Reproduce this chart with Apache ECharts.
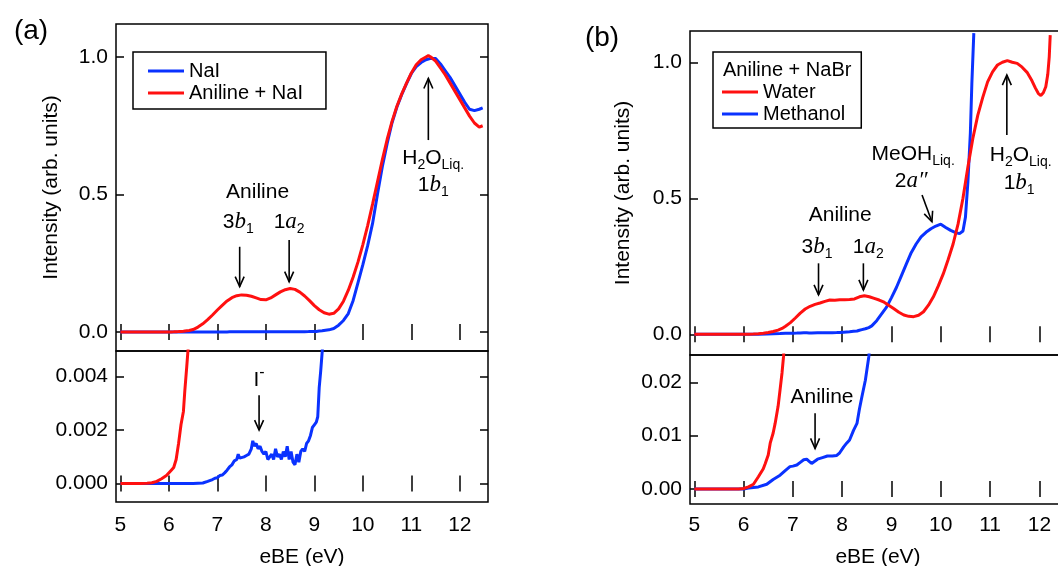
<!DOCTYPE html>
<html><head><meta charset="utf-8">
<script src="https://cdn.jsdelivr.net/npm/echarts@6/dist/echarts.min.js"></script>
<style>html,body{margin:0;padding:0;background:#fff}#c{width:1058px;height:566px}</style>
</head><body><div id="c"></div>
<script>
// ---- tick values ----
const xTicks = [5, 6, 7, 8, 9, 10, 11, 12];
const aTopTicks = [0, 0.5, 1.0];
const aBotTicks = [0, 0.002, 0.004];
const bTopTicks = [0, 0.5, 1.0];
const bBotTicks = [0, 0.01, 0.02];

// ---- panel (a): NaI and Aniline + NaI (eBE eV, intensity) ----
const naI = [[5.0,0],[5.5,0],[6.0,0],[6.5,0],[6.7,0.00002],[6.8,0.00008],[6.9,0.00015],[6.95,0.0002],[7.0,0.00022],[7.05,0.0003],[7.1,0.00032],[7.15,0.0004],[7.2,0.0005],[7.25,0.00062],[7.3,0.0007],[7.35,0.00085],[7.4,0.0009],[7.43,0.0011],[7.46,0.00095],[7.5,0.0009],[7.55,0.001],[7.6,0.00105],[7.65,0.0011],[7.7,0.0013],[7.73,0.0016],[7.76,0.0014],[7.8,0.0015],[7.84,0.0013],[7.88,0.0014],[7.92,0.0012],[7.96,0.0011],[8.0,0.0012],[8.04,0.0009],[8.08,0.001],[8.12,0.0011],[8.16,0.0009],[8.2,0.0013],[8.24,0.001],[8.28,0.0011],[8.32,0.0009],[8.36,0.0012],[8.4,0.001],[8.44,0.0014],[8.48,0.0009],[8.52,0.0012],[8.56,0.0008],[8.6,0.0007],[8.64,0.0011],[8.68,0.0008],[8.72,0.0012],[8.76,0.0013],[8.8,0.0012],[8.84,0.0015],[8.88,0.0016],[8.92,0.0018],[8.96,0.0021],[9.0,0.0022],[9.04,0.0023],[9.07,0.0025],[9.1,0.0036],[9.13,0.0042],[9.16,0.0049],[9.2,0.006],[9.3,0.008],[9.4,0.013],[9.5,0.025],[9.6,0.042],[9.7,0.067],[9.8,0.115],[9.9,0.18],[10.0,0.245],[10.1,0.315],[10.2,0.395],[10.3,0.5],[10.4,0.6],[10.5,0.685],[10.6,0.76],[10.7,0.817],[10.8,0.863],[10.9,0.903],[11.0,0.94],[11.1,0.965],[11.2,0.98],[11.3,0.99],[11.4,0.995],[11.5,0.995],[11.6,0.975],[11.7,0.95],[11.8,0.925],[11.9,0.895],[12.0,0.865],[12.1,0.835],[12.2,0.81],[12.3,0.805],[12.4,0.81],[12.47,0.815]];
const anilineNaI = [[5.0,0],[5.2,0],[5.4,0],[5.55,0.00001],[5.65,0.00003],[5.75,0.00008],[5.85,0.00018],[5.95,0.0003],[6.05,0.0005],[6.1,0.0006],[6.15,0.0009],[6.2,0.0015],[6.25,0.0022],[6.3,0.0027],[6.33,0.0035],[6.37,0.0044],[6.42,0.0056],[6.5,0.009],[6.6,0.018],[6.7,0.03],[6.8,0.045],[6.9,0.062],[7.0,0.08],[7.1,0.097],[7.2,0.113],[7.3,0.125],[7.4,0.132],[7.5,0.135],[7.6,0.134],[7.7,0.13],[7.8,0.124],[7.9,0.118],[8.0,0.117],[8.1,0.124],[8.2,0.135],[8.3,0.146],[8.4,0.154],[8.5,0.158],[8.6,0.155],[8.7,0.145],[8.8,0.131],[8.9,0.114],[9.0,0.096],[9.1,0.081],[9.2,0.07],[9.3,0.065],[9.4,0.068],[9.5,0.084],[9.6,0.112],[9.7,0.152],[9.8,0.2],[9.9,0.255],[10.0,0.318],[10.1,0.388],[10.2,0.465],[10.3,0.545],[10.4,0.625],[10.5,0.7],[10.6,0.765],[10.7,0.82],[10.8,0.865],[10.9,0.905],[11.0,0.942],[11.1,0.972],[11.2,0.99],[11.3,1.0],[11.35,1.005],[11.4,1.0],[11.5,0.985],[11.6,0.96],[11.7,0.935],[11.8,0.905],[11.9,0.875],[12.0,0.845],[12.1,0.815],[12.2,0.785],[12.3,0.76],[12.4,0.745],[12.47,0.75]];

// ---- panel (b): Aniline + NaBr in water / methanol ----
const water = [[5.0,0],[5.5,0],[5.9,0],[6.0,0.0001],[6.1,0.0004],[6.2,0.0009],[6.3,0.0023],[6.4,0.0038],[6.44,0.0048],[6.5,0.0064],[6.54,0.0086],[6.6,0.0105],[6.64,0.0123],[6.7,0.0155],[6.74,0.0186],[6.78,0.0218],[6.81,0.0248],[6.85,0.03],[6.95,0.043],[7.05,0.06],[7.15,0.078],[7.25,0.093],[7.35,0.103],[7.45,0.11],[7.55,0.115],[7.65,0.121],[7.75,0.126],[7.85,0.125],[7.95,0.127],[8.05,0.127],[8.15,0.128],[8.25,0.13],[8.35,0.138],[8.45,0.142],[8.55,0.138],[8.65,0.132],[8.75,0.126],[8.85,0.118],[8.95,0.106],[9.05,0.094],[9.15,0.081],[9.25,0.071],[9.35,0.066],[9.45,0.065],[9.55,0.07],[9.65,0.083],[9.75,0.107],[9.85,0.138],[9.95,0.178],[10.05,0.222],[10.15,0.275],[10.25,0.332],[10.35,0.405],[10.45,0.5],[10.55,0.615],[10.65,0.72],[10.75,0.805],[10.85,0.87],[10.95,0.928],[11.05,0.965],[11.15,0.99],[11.25,1.0],[11.35,1.006],[11.45,1.0],[11.55,0.996],[11.65,0.982],[11.75,0.963],[11.85,0.932],[11.92,0.905],[11.98,0.885],[12.03,0.878],[12.08,0.888],[12.13,0.91],[12.17,0.955],[12.2,1.02],[12.22,1.1]];
const methanol = [[5.0,0],[5.5,0],[6.0,0],[6.1,0.0002],[6.3,0.0004],[6.47,0.0009],[6.6,0.0018],[6.74,0.0026],[6.85,0.0035],[6.94,0.0042],[7.0,0.0043],[7.08,0.0045],[7.15,0.005],[7.22,0.0055],[7.28,0.0056],[7.33,0.0052],[7.38,0.0048],[7.42,0.005],[7.5,0.0056],[7.6,0.0059],[7.7,0.0062],[7.8,0.0062],[7.89,0.0063],[7.95,0.0068],[8.03,0.0079],[8.09,0.0086],[8.15,0.0092],[8.23,0.011],[8.3,0.0123],[8.35,0.015],[8.4,0.0173],[8.47,0.0204],[8.54,0.0248],[8.6,0.031],[8.7,0.05],[8.8,0.075],[8.9,0.1],[9.0,0.135],[9.1,0.172],[9.2,0.215],[9.3,0.258],[9.4,0.3],[9.5,0.332],[9.6,0.358],[9.7,0.375],[9.8,0.388],[9.9,0.398],[10.0,0.405],[10.1,0.393],[10.2,0.382],[10.3,0.374],[10.38,0.37],[10.45,0.38],[10.5,0.43],[10.55,0.56],[10.6,0.74],[10.63,0.92],[10.67,1.107]];

// ---- annotations (data coordinates, per grid) ----
const annoTexts = [
  {g:0, at:[7.83,0.51], t:'{n|Aniline}'},
  {g:0, at:[7.43,0.40], t:'{n|3}{i|b}{s|1}'},
  {g:0, at:[8.48,0.40], t:'{n|1}{i|a}{s|2}'},
  {g:0, at:[11.45,0.633], t:'{n|H}{s|2}{n|O}{s|Liq.}'},
  {g:0, at:[11.45,0.535], t:'{n|1}{i|b}{s|1}'},
  {g:1, at:[7.86,0.00388], t:'{n|I}{p|-}'},
  {g:2, at:[7.96,0.439], t:'{n|Aniline}'},
  {g:2, at:[7.49,0.322], t:'{n|3}{i|b}{s|1}'},
  {g:2, at:[8.53,0.322], t:'{n|1}{i|a}{s|2}'},
  {g:2, at:[9.44,0.661], t:'{n|MeOH}{s|Liq.}'},
  {g:2, at:[9.4,0.564], t:'{n|2}{i|a\u2033}'},
  {g:2, at:[11.62,0.66], t:'{n|H}{s|2}{n|O}{s|Liq.}'},
  {g:2, at:[11.59,0.556], t:'{n|1}{i|b}{s|1}'},
  {g:3, at:[7.59,0.01715], t:'{n|Aniline}'}
];
const annoArrows = [
  {g:0, from:[7.46,0.31], to:[7.46,0.165]},
  {g:0, from:[8.48,0.335], to:[8.48,0.183]},
  {g:0, from:[11.35,0.698], to:[11.35,0.922]},
  {g:1, from:[7.86,0.0033], to:[7.86,0.002]},
  {g:2, from:[7.52,0.261], to:[7.52,0.145]},
  {g:2, from:[8.43,0.261], to:[8.43,0.163]},
  {g:2, from:[9.62,0.512], to:[9.82,0.414]},
  {g:2, from:[11.34,0.733], to:[11.34,0.953]},
  {g:3, from:[7.45,0.0142], to:[7.45,0.0076]}
];

const FF = '"Liberation Sans", Arial, sans-serif';
const RED = '#ff1010', BLUE = '#0a32ff';
const grids = [
  {left:116, top:24, width:372, height:327},
  {left:116, top:351, width:372, height:151},
  {left:690, top:31, width:376, height:324},
  {left:690, top:355, width:376, height:149}
];
const xRange = [[4.91,12.58],[4.91,12.58],[4.913,12.54],[4.913,12.54]];
const yRange = [[-0.069,1.12],[-0.00069,0.00496],[-0.076,1.115],[-0.0028,0.02512]];
const yTicks = [aTopTicks, aBotTicks, bTopTicks, bBotTicks];
const yDigits = [1,3,1,2];
const xLabelMargin = [0, 13, 0, 11];
const xNameGap = [0, 45, 0, 43];

const chart = echarts.init(document.getElementById('c'), null, {renderer:'canvas'});
const xAxis = [], yAxis = [];
grids.forEach((g, i) => {
  const isBottom = (i % 2 === 1);
  const tick = {show:true, inside:true, length:8, lineStyle:{color:'#000', width:1.5}, customValues:xTicks};
  xAxis.push({type:'value', gridIndex:i, position:'bottom', min:xRange[i][0], max:xRange[i][1],
    axisLine:{show:false}, splitLine:{show:false}, axisTick:tick,
    axisLabel:{show:isBottom, customValues:xTicks, fontSize:21, fontFamily:FF, color:'#000', margin:xLabelMargin[i], formatter:v=>String(Math.round(v))},
    name: isBottom ? 'eBE (eV)' : '', nameLocation:'middle', nameGap: xNameGap[i],
    nameTextStyle:{fontSize:21, fontFamily:FF, color:'#000'}});
  xAxis.push({type:'value', gridIndex:i, position:'top', min:xRange[i][0], max:xRange[i][1],
    axisLine:{show:false}, splitLine:{show:false}, axisTick:tick, axisLabel:{show:false}});
  const ytick = {show:true, inside:true, length:8, lineStyle:{color:'#000', width:1.5}, customValues:yTicks[i]};
  yAxis.push({type:'value', gridIndex:i, position:'left', min:yRange[i][0], max:yRange[i][1],
    axisLine:{show:false}, splitLine:{show:false}, axisTick:ytick,
    axisLabel:{show:true, customValues:yTicks[i], fontSize:21, fontFamily:FF, color:'#000', margin:8,
      formatter:v=>Number(v).toFixed(yDigits[i])},
    name: isBottom ? '' : 'Intensity (arb. units)', nameLocation:'middle', nameGap: i===0 ? 54 : 56, nameRotate:90,
    nameTextStyle:{fontSize:21, fontFamily:FF, color:'#000'}});
  yAxis.push({type:'value', gridIndex:i, position:'right', min:yRange[i][0], max:yRange[i][1],
    axisLine:{show:false}, splitLine:{show:false}, axisTick:ytick, axisLabel:{show:false}});
});

function mkSeries(name, data, gi, color) {
  return {type:'line', name:name, data:data, xAxisIndex:gi*2, yAxisIndex:gi*2, showSymbol:false, symbol:'none',
    lineStyle:{color:color, width:3}, itemStyle:{color:color}, clip:true, animation:false, silent:true};
}
const series = [
  mkSeries('NaI', naI, 0, BLUE), mkSeries('Aniline + NaI', anilineNaI, 0, RED),
  mkSeries('NaI', naI, 1, BLUE), mkSeries('Aniline + NaI', anilineNaI, 1, RED),
  mkSeries('Methanol', methanol, 2, BLUE), mkSeries('Water', water, 2, RED),
  mkSeries('Methanol', methanol, 3, BLUE), mkSeries('Water', water, 3, RED)
];

const legendBase = {orient:'vertical', icon:'rect', itemWidth:36, itemHeight:3, itemGap:0,
  borderColor:'#000', borderWidth:1.5, backgroundColor:'#fff', selectedMode:false,
  textStyle:{fontSize:20, lineHeight:22, fontFamily:FF, color:'#000'}};

chart.setOption({
  animation:false,
  backgroundColor:'#fff',
  grid: grids.map(g => Object.assign({show:true, borderColor:'#000', borderWidth:1.5, backgroundColor:'transparent',
    containLabel:false, outerBoundsMode:'none'}, g)),
  xAxis, yAxis, series,
  legend: [
    Object.assign({}, legendBase, {left:133, top:52, itemTextGap:11, padding:[8,23,5,15], data:['NaI','Aniline + NaI']}),
    Object.assign({}, legendBase, {left:713, top:52, itemTextGap:10, padding:[29,16,3,9], data:['Water','Methanol']})
  ]
});

// ---- annotations via the chart's own coordinate conversion ----
const rich = {
  n:{fontSize:21, fontFamily:FF, fill:'#000'},
  i:{fontSize:23, fontFamily:'"Liberation Serif", serif', fontStyle:'italic', fill:'#000'},
  s:{fontSize:14, fontFamily:FF, fill:'#000', padding:[14,0,0,0]},
  p:{fontSize:16, fontFamily:FF, fill:'#000', padding:[0,0,14,0]}
};
const graphics = [];
graphics.push({type:'text', x:31, y:31, z:200, style:{text:'(a)', font:'28px '+FF, fill:'#000', align:'center', verticalAlign:'middle', textAlign:'center', textVerticalAlign:'middle'}});
graphics.push({type:'text', x:602, y:38, z:200, style:{text:'(b)', font:'28px '+FF, fill:'#000', align:'center', verticalAlign:'middle', textAlign:'center', textVerticalAlign:'middle'}});
graphics.push({type:'text', x:723, y:70, z:200, zlevel:1, style:{text:'Aniline + NaBr', font:'20px '+FF, fill:'#000', align:'left', verticalAlign:'middle', textAlign:'left', textVerticalAlign:'middle'}});
annoTexts.forEach(a => {
  const p = chart.convertToPixel({gridIndex:a.g}, a.at);
  graphics.push({type:'text', x:p[0], y:p[1], z:100,
    style:{text:a.t, rich:rich, font:'21px '+FF, fill:'#000', align:'center', verticalAlign:'middle', textAlign:'center', textVerticalAlign:'middle'}});
});
annoArrows.forEach(a => {
  const p1 = chart.convertToPixel({gridIndex:a.g}, a.from);
  const p2 = chart.convertToPixel({gridIndex:a.g}, a.to);
  const dx = p1[0]-p2[0], dy = p1[1]-p2[1];
  const L = Math.hypot(dx, dy), ux = dx/L, uy = dy/L;
  const ang = 24*Math.PI/180, hl = 11;
  const r = (s) => [p2[0] + hl*(ux*Math.cos(s*ang) - uy*Math.sin(s*ang)), p2[1] + hl*(ux*Math.sin(s*ang) + uy*Math.cos(s*ang))];
  graphics.push({type:'line', z:100, shape:{x1:p1[0], y1:p1[1], x2:p2[0], y2:p2[1]}, style:{stroke:'#000', lineWidth:1.6}});
  graphics.push({type:'polyline', z:100, shape:{points:[r(1), p2, r(-1)]}, style:{stroke:'#000', lineWidth:1.6, fill:null}});
});
chart.setOption({graphic: graphics});
</script>
</body></html>
